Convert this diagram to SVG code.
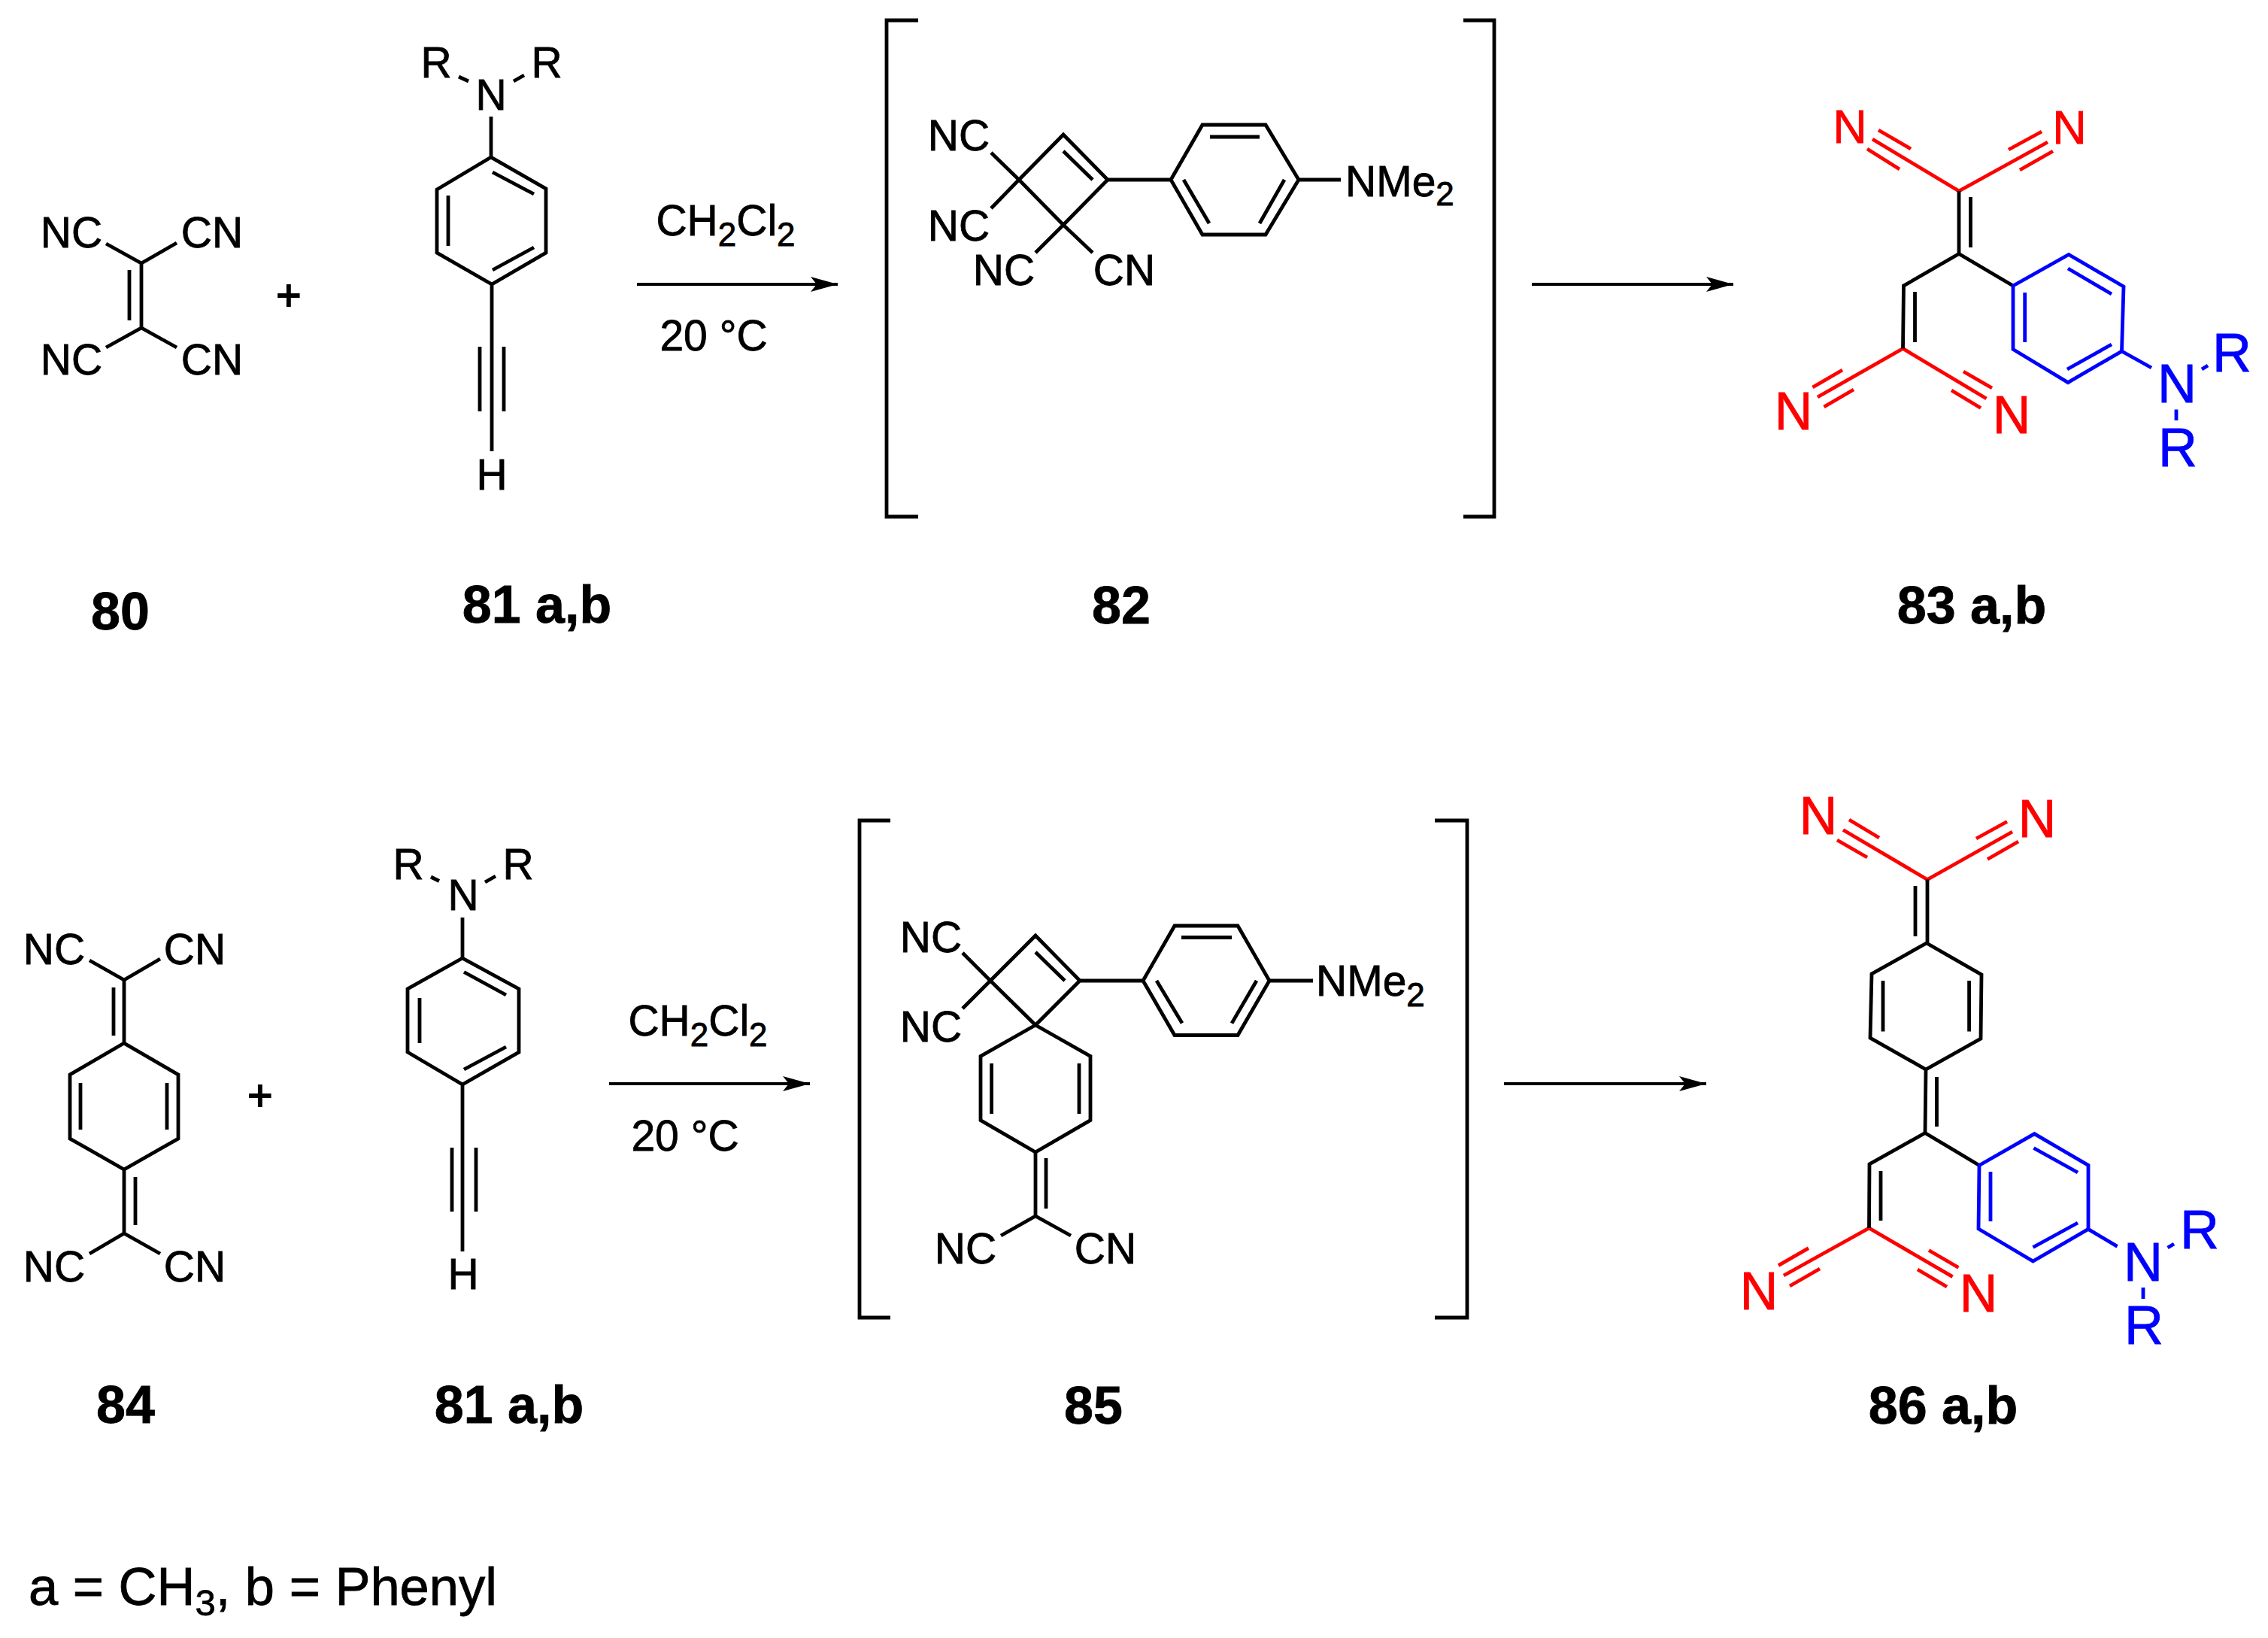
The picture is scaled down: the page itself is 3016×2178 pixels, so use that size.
<svg xmlns="http://www.w3.org/2000/svg" width="3016" height="2178" viewBox="0 0 3016 2178">
<style>
text{font-family:"Liberation Sans",Arial,sans-serif;font-size:57px;text-anchor:middle;fill:#000;stroke:#000;stroke-width:.8}
.b{font-weight:700;font-size:70px}
.st{text-anchor:start}
.sub{font-size:44px}
.bond{fill:none;stroke:#000;stroke-width:4.800;stroke-linejoin:miter}
.r{stroke:#f00}
.u{stroke:#00f}
.rt{fill:#f00;stroke:#f00;font-size:70px}
.ut{fill:#00f;stroke:#00f;font-size:72px}
.bk{fill:none;stroke:#000;stroke-width:4.800}
.ar{fill:none;stroke:#000;stroke-width:4;marker-end:url(#ah)}
.pl{stroke-width:1.800}
</style>
<defs><marker id="ah" markerUnits="userSpaceOnUse" markerWidth="38" markerHeight="22" refX="36" refY="11" orient="auto"><path d="M0 1L36 11L0 21L8 11Z" fill="#000"/></marker></defs>
<rect width="3016" height="2178" fill="#fff"/>
<g id="connectors">
<path class="ar" d="M847 378H1114"/>
<path class="ar" d="M2037 378H2305"/>
<path class="ar" d="M810 1441H1077"/>
<path class="ar" d="M2000 1441H2269"/>
</g>
<g id="n80">
<path class="bond" d="M141 324L188 350L235 323M188 350V436M172 359V426M141 462L188 436L235 462"/>
<text x="95" y="329">NC</text><text x="282" y="329">CN</text><text x="95" y="498">NC</text><text x="282" y="498">CN</text>
<text class="b" x="160" y="837">80</text>
</g>
<text id="plus1" class="pl" x="384" y="412">+</text>
<g id="n81a">
<path class="bond" d="M653 155V209L726 251V336L654 378L581 336V252L653 209M655 229L710 258M596 260V327M655 359L710 329M654 378V600M638 461V547M670 461V547M610 102L623 108M697 100L683 108"/>
<text x="580" y="103">R</text><text x="727" y="103">R</text><text x="653" y="146">N</text><text x="654" y="651">H</text>
<text class="b" x="714" y="828">81 a,b</text>
</g>
<g id="reagents1"><text x="965" y="313">CH<tspan class="sub" dy="14">2</tspan><tspan dy="-14">Cl</tspan><tspan class="sub" dy="14">2</tspan></text><text x="949" y="466">20 °C</text></g>
<g id="n82">
<path class="bk" d="M1221 27H1179V687H1221M1946 27H1987V687H1946"/>
<path class="bond" d="M1355 239L1414 179L1473 239L1414 299ZM1414 201L1453 239M1318 203L1355 239L1318 277M1377 336L1414 299L1453 336M1473 239H1557L1599 166H1683L1727 239L1683 312H1599L1557 239M1609 182H1675M1574 239L1608 297M1708 239L1675 297M1727 239H1783"/>
<text x="1275" y="200">NC</text><text x="1275" y="320">NC</text><text x="1335" y="379">NC</text><text x="1495" y="379">CN</text>
<text class="st" x="1789" y="261">NMe<tspan class="sub" dy="12">2</tspan></text>
<text class="b" x="1491" y="829">82</text>
</g>
<g id="n83">
<path class="bond r" d="M2490 185L2605 254L2723 189M2498 173L2541 198M2483 198L2526 225M2671 199L2715 175M2686 226L2730 201M2417 528L2530.500 463.500L2641.500 530M2410.500 515L2450 492M2425.500 541L2465 518M2611 494L2649 516M2595 519L2634 542.500"/>
<path class="bond" d="M2605 254V337.500M2620.500 262V329M2677 380L2605 337.500L2531.500 380L2530.500 463.500M2546.500 388V455"/>
<path class="bond u" d="M2677 380L2751 338.500L2824 381L2821.500 467L2750 508.600L2677 464.500ZM2750 357L2808 391M2692.700 389V455M2749 491L2808 458M2821.500 467L2861 489M2928 491L2936 486M2894 544.500V559"/>
<text class="rt" style="font-size:63px" x="2460" y="190">N</text><text class="rt" style="font-size:63px" x="2752" y="191">N</text>
<text class="rt" x="2385" y="571">N</text><text class="rt" x="2675" y="576">N</text>
<text class="ut" x="2895" y="535">N</text><text class="ut" x="2968" y="494">R</text><text class="ut" x="2896" y="620">R</text>
<text class="b" x="2622" y="829">83 a,b</text>
</g>
<g id="n84">
<path class="bond" d="M119 1277L165 1303L213 1275M165 1303V1387L237 1429V1514L165 1555L93 1514V1429L165 1387M151 1313V1377M107 1440V1502M222 1440V1502M165 1555V1640M180 1565V1629M119 1667L165 1640L213 1667"/>
<text x="72" y="1282">NC</text><text x="259" y="1282">CN</text><text x="72" y="1704">NC</text><text x="259" y="1704">CN</text>
<text class="b" x="167" y="1892">84</text>
</g>
<text id="plus2" class="pl" x="346" y="1476">+</text>
<g id="n81b">
<path class="bond" d="M615 1220V1274L690 1315V1399L615 1442L542 1399V1315L615 1274M617 1292.500L673 1323M558 1327V1387M617 1422L673 1392M615 1442V1664M601 1526V1611M633 1526V1611M573 1166L584 1171.500M659 1165L645 1173"/>
<text x="543" y="1169">R</text><text x="689" y="1169">R</text><text x="616" y="1210">N</text><text x="616" y="1714">H</text>
<text class="b" x="677" y="1892">81 a,b</text>
</g>
<g id="reagents2"><text x="928" y="1377">CH<tspan class="sub" dy="14">2</tspan><tspan dy="-14">Cl</tspan><tspan class="sub" dy="14">2</tspan></text><text x="911" y="1530">20 °C</text></g>
<g id="n85">
<path class="bk" d="M1184 1091H1143V1752H1184M1908 1091H1951V1752H1908"/>
<path class="bond" d="M1317 1304L1377 1244L1436 1304L1377 1363ZM1377 1266L1416 1304M1280 1267L1317 1304L1280 1341M1436 1304H1520L1562 1231H1646L1688 1304L1646 1376.500H1562L1520 1304M1571 1246.500H1638M1538 1304L1572 1360.600M1671 1304L1638 1360.600M1688 1304H1746M1377 1363L1450 1404.500V1489.500L1377 1532L1304 1489.500V1404.500L1377 1363M1318.600 1414V1481M1435 1414V1481M1377 1532V1617M1391 1540V1607M1331 1643L1377 1617L1424 1643"/>
<text x="1238" y="1266">NC</text><text x="1238" y="1385">NC</text><text x="1284" y="1680">NC</text><text x="1470" y="1680">CN</text>
<text class="st" x="1750" y="1324">NMe<tspan class="sub" dy="14">2</tspan></text>
<text class="b" x="1454" y="1893">85</text>
</g>
<g id="n86">
<path class="bond r" d="M2451 1103.500L2563 1169.500L2676 1106M2459 1090L2499 1114M2443 1117L2483 1140M2628 1115L2669 1092.500M2643 1142.500L2684 1119M2372 1696L2485.500 1633L2596.600 1697.600M2365 1682.600L2405 1659.700M2380 1710L2420 1687M2565 1662.500L2604.500 1685.500M2550 1688L2589 1711"/>
<path class="bond" d="M2563 1169.500V1254M2547 1178V1245M2562 1254L2635 1296L2634 1381L2561 1422L2487 1380L2489 1295ZM2504 1304V1371.500M2618.600 1304V1371.500M2561 1422L2560 1506.400M2575.500 1432V1498M2632 1549.500L2560 1506.400L2486 1548L2485.500 1633M2501 1557V1623"/>
<path class="bond u" d="M2632 1549.500L2705.400 1507.600L2777 1549.500V1634.400L2703.500 1677L2631 1634ZM2704.400 1526.500L2763 1559M2647 1558V1624M2703.500 1658.500L2763 1626M2777 1634.400L2815.600 1657.400M2882.600 1659L2891 1654M2850 1712V1727"/>
<text class="rt" x="2418" y="1109">N</text><text class="rt" x="2709" y="1113">N</text><text class="rt" x="2339" y="1741">N</text><text class="rt" x="2631" y="1744">N</text>
<text class="ut" x="2850" y="1703">N</text><text class="ut" x="2925" y="1660">R</text><text class="ut" x="2851" y="1787">R</text>
<text class="b" x="2584" y="1893">86 a,b</text>
</g>
<text id="legend" class="st" style="font-size:70.500px" x="38" y="2134">a = CH<tspan style="font-size:49px" dy="14">3</tspan><tspan dy="-14">, b = Phenyl</tspan></text>
</svg>
